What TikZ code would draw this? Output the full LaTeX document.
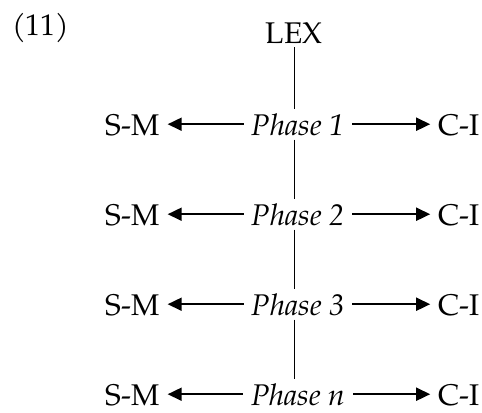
\documentclass[tikz,border=0pt]{standalone}
\usepackage{fontspec}
\setmainfont{TeX Gyre Pagella}
\usetikzlibrary{positioning}
\usetikzlibrary{arrows.meta}

\tikzset{
	word/.style={anchor=base, inner xsep=8bp, inner ysep=4bp, font=\fontsize{30}{36}\selectfont},
	phase/.style={word, font=\fontsize{30}{36}\selectfont\itshape},
	spell/.style={-{Triangle[length=14bp,width=13bp]}, line width=1.8bp},
	feed/.style={line width=0.9bp}
}

\begin{document}
\begin{tikzpicture}[x=1bp,y=1bp]
		\useasboundingbox (0,0) rectangle (482,412);
		\node (ex) [word, anchor=base west, inner xsep=0pt] at (12,377) {(11)};
		\node (lex) [word] at (294,369) {LEX};
		% phases
		\node (p1) [phase] at (298,277) {Phase 1};
		\node (p2) [phase] at (298,187) {Phase 2};
		\node (p3) [phase] at (298,97) {Phase 3};
		\node (pn) [phase] at (298,7) {Phase n};
		% interfaces
		\node (sm1) [word] at (132.5,277) {S-M};
		\node (sm2) [word] at (132.5,187) {S-M};
		\node (sm3) [word] at (132.5,97) {S-M};
		\node (smn) [word] at (132.5,7) {S-M};
		\node (ci1) [word] at (459,277) {C-I};
		\node (ci2) [word] at (459,187) {C-I};
		\node (ci3) [word] at (459,97) {C-I};
		\node (cin) [word] at (459,7) {C-I};
		% derivation
		\draw [feed] (lex.south) -- (lex.south |- p1.north);
		\draw [feed] (lex.south |- p1.south) -- (lex.south |- p2.north);
		\draw [feed] (lex.south |- p2.south) -- (lex.south |- p3.north);
		\draw [feed] (lex.south |- p3.south) -- (lex.south |- pn.north);
		% spell-out
		\draw [spell] (p1.west) -- (p1.west -| sm1.east);
		\draw [spell] (p1.east) -- (p1.east -| ci1.west);
		\draw [spell] (p2.west) -- (p2.west -| sm2.east);
		\draw [spell] (p2.east) -- (p2.east -| ci2.west);
		\draw [spell] (p3.west) -- (p3.west -| sm3.east);
		\draw [spell] (p3.east) -- (p3.east -| ci3.west);
		\draw [spell] (pn.west) -- (pn.west -| smn.east);
		\draw [spell] (pn.east) -- (pn.east -| cin.west);
	\end{tikzpicture}
\end{document}
